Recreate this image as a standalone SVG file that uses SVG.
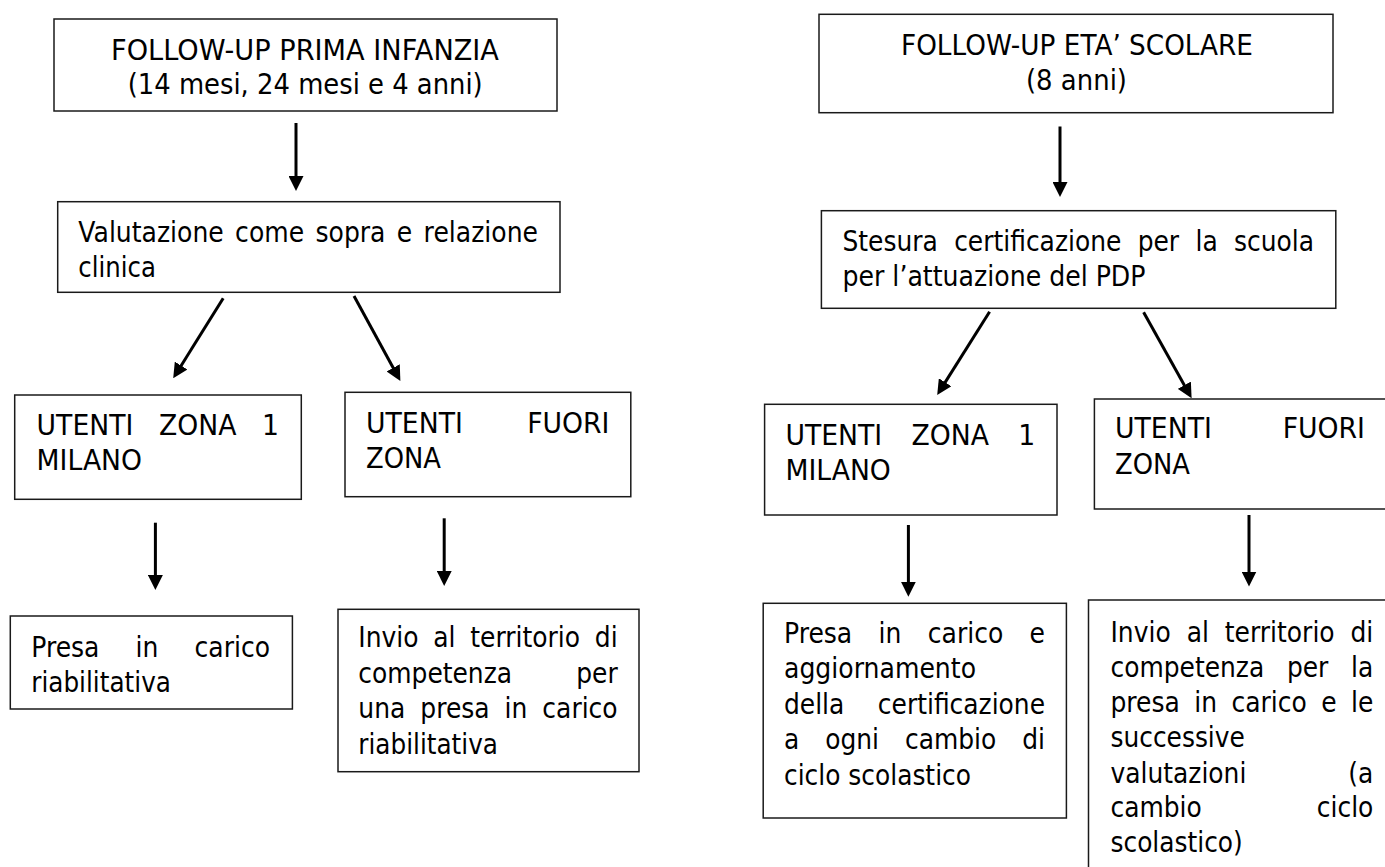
<svg xmlns="http://www.w3.org/2000/svg" width="1385" height="867" viewBox="0 0 1385 867">
<style>
.t{font-family:"DejaVu Sans","Liberation Sans",sans-serif;font-size:29px;fill:#000}
.box{fill:#fff;stroke:#1a1a1a;stroke-width:1.5}
.arr{stroke:#000;stroke-width:3;fill:none;marker-end:url(#ah)}
</style>
<defs>
<marker id="ah" viewBox="0 0 15 15" refX="9" refY="7.5" markerWidth="15" markerHeight="15" markerUnits="userSpaceOnUse" orient="auto">
<path d="M0,0 L15,7.5 L0,15 Z" fill="#000"/>
</marker>
</defs>
<rect width="1385" height="867" fill="#fff"/>

<g id="connectors">
<line class="arr" x1="296" y1="123" x2="296" y2="185"/>
<line class="arr" x1="223.2" y1="298.3" x2="176.4" y2="373.2"/>
<line class="arr" x1="354" y1="296" x2="397.5" y2="375.7"/>
<line class="arr" x1="155.4" y1="522.7" x2="155.4" y2="584"/>
<line class="arr" x1="444.2" y1="518.3" x2="444.2" y2="580"/>
<line class="arr" x1="1060" y1="126.5" x2="1060" y2="191"/>
<line class="arr" x1="989.6" y1="311.7" x2="940.4" y2="389.9"/>
<line class="arr" x1="1143.6" y1="312.3" x2="1188.7" y2="393.1"/>
<line class="arr" x1="908.4" y1="525" x2="908.4" y2="590.7"/>
<line class="arr" x1="1249" y1="515" x2="1249" y2="580.5"/>
</g>

<g id="follow-up-prima-infanzia">
<rect class="box" x="54" y="19" width="503" height="92"/>
<text class="t" transform="translate(111 60) scale(0.92 1)" textLength="421.7" lengthAdjust="spacingAndGlyphs">FOLLOW-UP PRIMA INFANZIA</text>
<text class="t" transform="translate(127.7 94) scale(0.86 1)" textLength="412.8" lengthAdjust="spacingAndGlyphs">(14 mesi, 24 mesi e 4 anni)</text>
</g>

<g id="valutazione">
<rect class="box" x="57.7" y="201.7" width="502.3" height="90.6"/>
<text class="t" transform="translate(78.3 241.7) scale(0.86 1)" textLength="534.5" lengthAdjust="spacingAndGlyphs" word-spacing="3.9">Valutazione come sopra e relazione</text>
<text class="t" transform="translate(78.3 276.7) scale(0.86 1)" textLength="90.3" lengthAdjust="spacingAndGlyphs">clinica</text>
</g>

<g id="utenti-zona1-left">
<rect class="box" x="14.7" y="395" width="286.6" height="104.3"/>
<text class="t" transform="translate(36.6 435) scale(0.92 1)" textLength="263.5" lengthAdjust="spacingAndGlyphs" word-spacing="18.6">UTENTI ZONA 1</text>
<text class="t" transform="translate(36.6 470) scale(0.92 1)" textLength="114.6" lengthAdjust="spacingAndGlyphs">MILANO</text>
</g>

<g id="utenti-fuori-left">
<rect class="box" x="345" y="392.3" width="285.8" height="104.4"/>
<text class="t" transform="translate(366 433.3) scale(0.92 1)" textLength="264.6" lengthAdjust="spacingAndGlyphs" word-spacing="60.7">UTENTI FUORI</text>
<text class="t" transform="translate(366 468.3) scale(0.92 1)" textLength="81.5" lengthAdjust="spacingAndGlyphs">ZONA</text>
</g>

<g id="presa-left">
<rect class="box" x="10.3" y="616" width="282.1" height="93"/>
<text class="t" transform="translate(31.25 656.7) scale(0.86 1)" textLength="277.6" lengthAdjust="spacingAndGlyphs" word-spacing="32.6">Presa in carico</text>
<text class="t" transform="translate(31.25 691.7) scale(0.86 1)" textLength="162.4" lengthAdjust="spacingAndGlyphs">riabilitativa</text>
</g>

<g id="invio-left">
<rect class="box" x="338" y="609.3" width="301" height="162.4"/>
<text class="t" transform="translate(358.3 647) scale(0.86 1)" textLength="301.6" lengthAdjust="spacingAndGlyphs" word-spacing="7.9">Invio al territorio di</text>
<text class="t" transform="translate(358.3 682.5) scale(0.86 1)" textLength="301.6" lengthAdjust="spacingAndGlyphs" word-spacing="65.4">competenza per</text>
<text class="t" transform="translate(358.3 718) scale(0.86 1)" textLength="301.6" lengthAdjust="spacingAndGlyphs" word-spacing="8.1">una presa in carico</text>
<text class="t" transform="translate(358.3 753.5) scale(0.86 1)" textLength="162.4" lengthAdjust="spacingAndGlyphs">riabilitativa</text>
</g>

<g id="follow-up-eta-scolare">
<rect class="box" x="819" y="14.3" width="514" height="98.4"/>
<text class="t" transform="translate(901 55) scale(0.92 1)" textLength="382.6" lengthAdjust="spacingAndGlyphs">FOLLOW-UP ETA’ SCOLARE</text>
<text class="t" transform="translate(1026 90) scale(0.86 1)" textLength="117.4" lengthAdjust="spacingAndGlyphs">(8 anni)</text>
</g>

<g id="stesura">
<rect class="box" x="821.4" y="210.7" width="514.4" height="97.6"/>
<text class="t" transform="translate(842.5 250.7) scale(0.86 1)" textLength="548.3" lengthAdjust="spacingAndGlyphs" word-spacing="9.8">Stesura certificazione per la scuola</text>
<text class="t" transform="translate(842.5 285.5) scale(0.86 1)" textLength="352.3" lengthAdjust="spacingAndGlyphs">per l’attuazione del PDP</text>
</g>

<g id="utenti-zona1-right">
<rect class="box" x="764.6" y="404.3" width="292.4" height="110.7"/>
<text class="t" transform="translate(785.4 445) scale(0.92 1)" textLength="271.6" lengthAdjust="spacingAndGlyphs" word-spacing="22.6">UTENTI ZONA 1</text>
<text class="t" transform="translate(785.4 480) scale(0.92 1)" textLength="114.6" lengthAdjust="spacingAndGlyphs">MILANO</text>
</g>

<g id="utenti-fuori-right">
<rect class="box" x="1094.4" y="399" width="292.6" height="110"/>
<text class="t" transform="translate(1115 438) scale(0.92 1)" textLength="271.7" lengthAdjust="spacingAndGlyphs" word-spacing="67.8">UTENTI FUORI</text>
<text class="t" transform="translate(1115 473.5) scale(0.92 1)" textLength="81.5" lengthAdjust="spacingAndGlyphs">ZONA</text>
</g>

<g id="presa-right">
<rect class="box" x="763.2" y="603.3" width="303.2" height="214.7"/>
<text class="t" transform="translate(784 642.5) scale(0.86 1)" textLength="303.5" lengthAdjust="spacingAndGlyphs" word-spacing="21.3">Presa in carico e</text>
<text class="t" transform="translate(784 678) scale(0.86 1)" textLength="223.3" lengthAdjust="spacingAndGlyphs">aggiornamento</text>
<text class="t" transform="translate(784 713.5) scale(0.86 1)" textLength="303.5" lengthAdjust="spacingAndGlyphs" word-spacing="29.8">della certificazione</text>
<text class="t" transform="translate(784 749) scale(0.86 1)" textLength="303.5" lengthAdjust="spacingAndGlyphs" word-spacing="20.9">a ogni cambio di</text>
<text class="t" transform="translate(784 784.5) scale(0.86 1)" textLength="217.4" lengthAdjust="spacingAndGlyphs">ciclo scolastico</text>
</g>

<g id="invio-right">
<rect class="box" x="1088.5" y="600" width="310" height="290"/>
<text class="t" transform="translate(1110.5 641.5) scale(0.86 1)" textLength="305.6" lengthAdjust="spacingAndGlyphs" word-spacing="9.2">Invio al territorio di</text>
<text class="t" transform="translate(1110.5 677) scale(0.86 1)" textLength="305.6" lengthAdjust="spacingAndGlyphs" word-spacing="17.2">competenza per la</text>
<text class="t" transform="translate(1110.5 712) scale(0.86 1)" textLength="305.6" lengthAdjust="spacingAndGlyphs" word-spacing="7.5">presa in carico e le</text>
<text class="t" transform="translate(1110.5 747) scale(0.86 1)" textLength="156.2" lengthAdjust="spacingAndGlyphs">successive</text>
<text class="t" transform="translate(1110.5 782.5) scale(0.86 1)" textLength="305.6" lengthAdjust="spacingAndGlyphs" word-spacing="109.3">valutazioni (a</text>
<text class="t" transform="translate(1110.5 817) scale(0.86 1)" textLength="305.6" lengthAdjust="spacingAndGlyphs" word-spacing="124.4">cambio ciclo</text>
<text class="t" transform="translate(1110.5 851.5) scale(0.86 1)" textLength="153.8" lengthAdjust="spacingAndGlyphs">scolastico)</text>
</g>
</svg>
